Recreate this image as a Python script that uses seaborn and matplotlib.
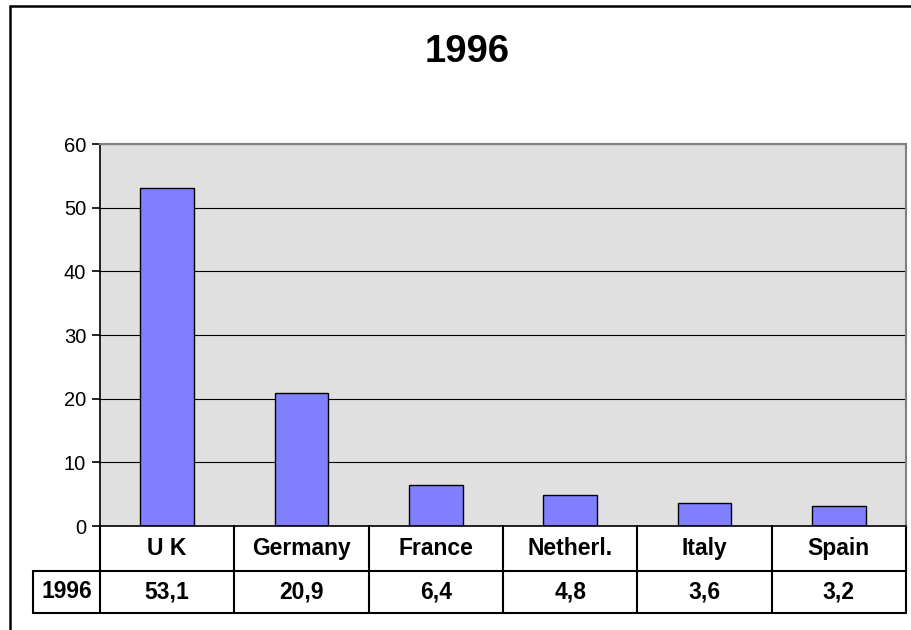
import numpy as np
import matplotlib
matplotlib.use("Agg")
import matplotlib.pyplot as plt
import matplotlib.transforms as mtransforms
from matplotlib.lines import Line2D
import seaborn as sns

countries = ['U K', 'Germany', 'France', 'Netherl.', 'Italy', 'Spain']
values = [53.1, 20.9, 6.4, 4.8, 3.6, 3.2]
series_name = '1996'
yticks = [0, 10, 20, 30, 40, 50, 60]

sns.set_style('white')
plt.rcParams['font.family'] = ['Liberation Sans', 'DejaVu Sans']
plt.rcParams['text.color'] = 'black'
plt.rcParams['ytick.color'] = 'black'
plt.rcParams['ytick.labelcolor'] = 'black'

W, H = 912, 630
fig = plt.figure(figsize=(W / 100, H / 100), dpi=100)
fig.patch.set_facecolor('white')

# plot area in pixel terms -> figure fractions
left, right, top, bottom = 100, 906, 144, 526
ax = fig.add_axes([left / W, 1 - bottom / H, (right - left) / W, (bottom - top) / H])
ax.set_facecolor('#E0E0E0')

sns.barplot(x=countries, y=values, color='#8080FF', edgecolor='black',
            linewidth=1, width=0.4, saturation=1, ax=ax)

ax.set_xlim(-0.5, len(countries) - 0.5)
ax.set_ylim(0, 60)
ax.set_yticks(yticks)
ax.set_yticklabels([str(t) for t in yticks], fontsize=14.5, color='black')
ax.set_xticks([])
ax.set_xlabel('')
ax.set_ylabel('')
ax.set_axisbelow(True)
ax.yaxis.grid(True, color='black', linewidth=0.8)
ax.tick_params(axis='y', direction='out', length=6, width=1.2, color='black', pad=4, left=True)

for s in ['left', 'bottom']:
    ax.spines[s].set_color('black')
    ax.spines[s].set_linewidth(1.2)
for s in ['top', 'right']:
    ax.spines[s].set_color('#808080')
    ax.spines[s].set_linewidth(1.5)

# data table under the plot
trans = mtransforms.blended_transform_factory(ax.transData, ax.transAxes)
ph = bottom - top
r1 = -(571 - bottom) / ph
r2 = -(613 - bottom) / ph
xl = -1.0
n = len(countries)
lw = 1.5
kw = dict(transform=trans, color='black', linewidth=lw, clip_on=False)

# horizontal lines
ax.add_line(Line2D([-0.5, n - 0.5], [r1, r1], **kw))
ax.add_line(Line2D([xl, -0.5], [r1, r1], **kw))
ax.add_line(Line2D([xl, n - 0.5], [r2, r2], **kw))
# vertical lines
for i in range(n + 1):
    ax.add_line(Line2D([i - 0.5, i - 0.5], [0, r2], **kw))
ax.add_line(Line2D([xl, xl], [r1, r2], **kw))

fs = 16.5
for i, (c, v) in enumerate(zip(countries, values)):
    ax.text(i, r1 / 2, c, transform=trans, ha='center', va='center',
            fontsize=fs, fontweight='bold', color='black')
    ax.text(i, (r1 + r2) / 2, f'{v:.1f}'.replace('.', ','), transform=trans,
            ha='center', va='center', fontsize=fs, fontweight='bold', color='black')
ax.text((xl - 0.5) / 2, (r1 + r2) / 2, series_name, transform=trans,
        ha='center', va='center', fontsize=fs, fontweight='bold', color='black')

# title
fig.text(467 / W, 1 - 52 / H, '1996', ha='center', va='center',
         fontsize=27.5, fontweight='bold', color='black')

# chart border (cut off on right and bottom)
fig.add_artist(Line2D([10 / W, 1], [1 - 6 / H, 1 - 6 / H], transform=fig.transFigure,
                      color='black', linewidth=1.8))
fig.add_artist(Line2D([10 / W, 10 / W], [0, 1 - 6 / H], transform=fig.transFigure,
                      color='black', linewidth=1.8))

fig.savefig('out.png', dpi=100)
